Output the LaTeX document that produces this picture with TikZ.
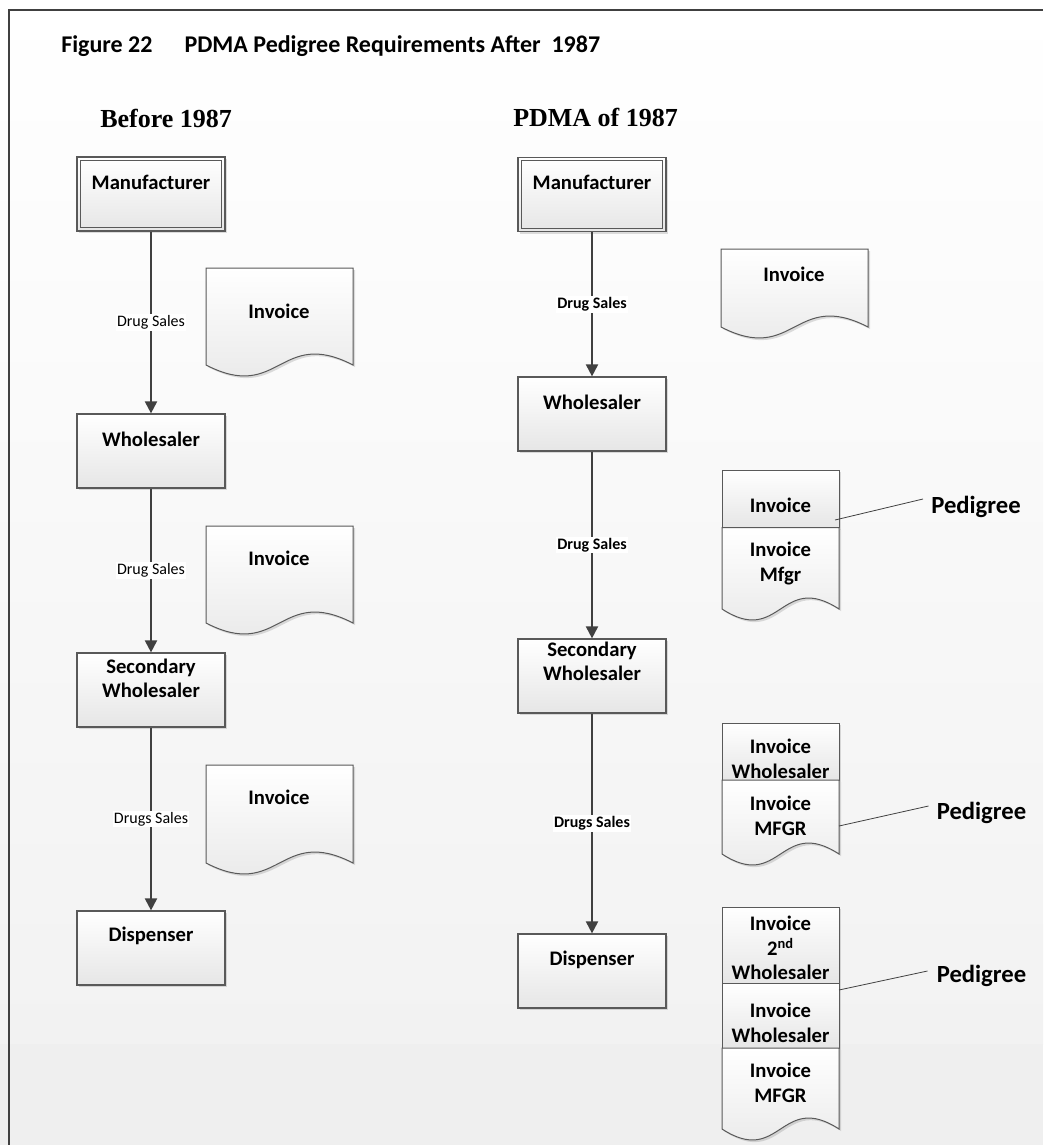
\documentclass[tikz,border=0pt]{standalone}
\usepackage{fontspec}
\setmainfont{Carlito}
\newfontfamily\headserif{Liberation Serif}
\usetikzlibrary{arrows.meta,shadows,calc}

\definecolor{edgegray}{HTML}{595959}
\definecolor{flowgray}{HTML}{404040}
\definecolor{fillbottom}{HTML}{E6E6E6}
\definecolor{pagebottom}{HTML}{F2F2F2}
\definecolor{bandgray}{HTML}{EFEFEF}

\tikzset{
  softshadow/.style={drop shadow={shadow xshift=1.6pt, shadow yshift=-1.6pt, fill=black, opacity=0.13}},
  procbox/.style={draw=edgegray, line width=0.9pt, top color=white, bottom color=fillbottom,
    minimum width=111pt, minimum height=55.5pt, inner sep=0pt, softshadow},
  docpart/.style={draw=edgegray, line width=0.75pt, top color=white, bottom color=fillbottom, softshadow},
  boxtext/.style={font=\bfseries\fontsize{15.5}{18.5}\selectfont, align=center, inner sep=0pt},
  doctext/.style={font=\bfseries\fontsize{15.5}{18.5}\selectfont, align=center, inner sep=0pt},
  flow/.style={draw=flowgray, line width=1.5pt, -{Triangle[length=9pt,width=9pt]}},
  salesplain/.style={fill=white, inner sep=1pt, font=\fontsize{12}{14}\selectfont},
  salesbold/.style={fill=white, inner sep=1pt, font=\bfseries\fontsize{12}{14}\selectfont},
  pedtext/.style={font=\bfseries\fontsize{18.5}{20}\selectfont, inner sep=0pt},
  pedline/.style={draw=flowgray, line width=0.6pt},
  colhead/.style={font=\headserif\bfseries\fontsize{19.5}{22}\selectfont, inner sep=0pt, anchor=base west},
}

% document shape with a wavy lower edge: left, top, right, edge height
\newcommand\wavydoc[4]{%
  \path[docpart] (#1,#2) -- (#3,#2) -- (#3,#4)
    .. controls ({(#1+#3)/2},{#4-38}) and ({(#1+#3)/2},{#4+38}) .. (#1,#4) -- cycle;}
% plain section of a stacked document: left, top, right, bottom
\newcommand\docsection[4]{%
  \path[docpart] (#1,#2) rectangle (#3,#4);}

\begin{document}
\begin{tikzpicture}[x=0.75pt, y=-0.75pt]
\useasboundingbox (0,0) rectangle (1043,1145);

% page background and frame
\shade[top color=white, bottom color=pagebottom] (0,0) rectangle (1043,1044);
\fill[bandgray] (0,1044) rectangle (1043,1145);
\draw[flowgray, line width=1.5pt] (8.5,1145) -- (8.5,10) -- (1043,10);

% caption and column headings
\node[anchor=base west, inner sep=0pt, font=\bfseries\fontsize{18}{21}\selectfont] (title) at (61,53)
  {Figure 22\hspace{24pt}PDMA Pedigree Requirements After\ \ 1987};
\node[colhead] (lefthead) at (100,128) {Before 1987};
\node[colhead] (righthead) at (513,127) {PDMA of 1987};

% ---------- before 1987 ----------
\node[procbox] (lman) at (151,194) {};
\draw[edgegray, line width=0.75pt] ([shift={(4,4)}]lman.north west) rectangle ([shift={(-4,-4)}]lman.south east);
\node[boxtext] (lmant) at ($(lman.north)+(0,26)$) {Manufacturer};

\node[procbox] (lwho) at (151,451) {};
\node[boxtext] (lwhot) at ($(lwho.north)+(0,26)$) {Wholesaler};

\node[procbox] (lsec) at (151,690) {};
\node[boxtext] (lsect) at ($(lsec.north)+(0,26)$) {Secondary\\Wholesaler};

\node[procbox] (ldis) at (151,948) {};
\node[boxtext] (ldist) at ($(ldis.north)+(0,25)$) {Dispenser};

\draw[flow] (lman) -- node[salesplain] (ls1) {Drug Sales} (lwho);
\draw[flow] (lwho) -- node[salesplain] (ls2) {Drug Sales} (lsec);
\draw[flow] (lsec) -- node[salesplain] (ls3) {Drugs Sales} (ldis);

\wavydoc{206}{268}{353}{365}
\node[doctext] (linv1) at (279,311) {Invoice};
\wavydoc{206}{526}{353}{623}
\node[doctext] (linv2) at (279,558) {Invoice};
\wavydoc{206}{765}{353}{863}
\node[doctext] (linv3) at (279,797) {Invoice};

% ---------- PDMA of 1987 ----------
\node[procbox] (rman) at (592,194.5) {};
\draw[edgegray, line width=0.75pt] ([shift={(4,4)}]rman.north west) rectangle ([shift={(-4,-4)}]rman.south east);
\node[boxtext] (rmant) at ($(rman.north)+(0,25)$) {Manufacturer};

\node[procbox] (rwho) at (592,414) {};
\node[boxtext] (rwhot) at ($(rwho.north)+(0,26)$) {Wholesaler};

\node[procbox] (rsec) at (592,676) {};
\node[boxtext] (rsect) at ($(rsec.north)+(0,23)$) {Secondary\\Wholesaler};

\node[procbox] (rdis) at (592,971) {};
\node[boxtext] (rdist) at ($(rdis.north)+(0,26)$) {Dispenser};

\draw[flow] (rman) -- node[salesbold] (rs1) {Drug Sales} (rwho);
\draw[flow] (rwho) -- node[salesbold] (rs2) {Drug Sales} (rsec);
\draw[flow] (rsec) -- node[salesbold] (rs3) {Drugs Sales} (rdis);

% single invoice
\wavydoc{721}{249}{868}{327}
\node[doctext] (rinv1) at (794,274) {Invoice};

% two-part pedigree
\docsection{722}{470}{839}{527.5}
\wavydoc{722}{527.5}{839}{609}
\node[doctext] (rinv2a) at (780.5,505) {Invoice};
\node[doctext] (rinv2b) at (780.5,563.5) {Invoice\\Mfgr};

% three-part pedigree
\docsection{722}{723}{839}{780}
\wavydoc{722}{780}{839}{854}
\node[doctext] (rinv3a) at (780.5,758.5) {Invoice\\Wholesaler};
\node[doctext] (rinv3b) at (780.5,816) {Invoice\\MFGR};

% four-part pedigree
\docsection{722}{907}{839}{983}
\docsection{722}{983}{839}{1048}
\wavydoc{722}{1048}{839}{1129}
\node[doctext] (rinv4a) at (780.5,948) {Invoice\\2\textsuperscript{nd}\\Wholesaler};
\node[doctext] (rinv4b) at (780.5,1022.5) {Invoice\\Wholesaler};
\node[doctext] (rinv4c) at (780.5,1083) {Invoice\\MFGR};

% pedigree call-outs
\node[pedtext] (ped1) at (976,507) {Pedigree};
\node[pedtext] (ped2) at (981.5,813) {Pedigree};
\node[pedtext] (ped3) at (981.5,976) {Pedigree};
\coordinate (p1) at (835,520);
\coordinate (p2) at (839,826);
\coordinate (p3) at (839,990);
\draw[pedline] (p1) -- ([shift={(-8,-8)}]ped1.west);
\draw[pedline] (p2) -- ([shift={(-8,-7)}]ped2.west);
\draw[pedline] (p3) -- ([shift={(-9,-5)}]ped3.west);
\end{tikzpicture}
\end{document}
